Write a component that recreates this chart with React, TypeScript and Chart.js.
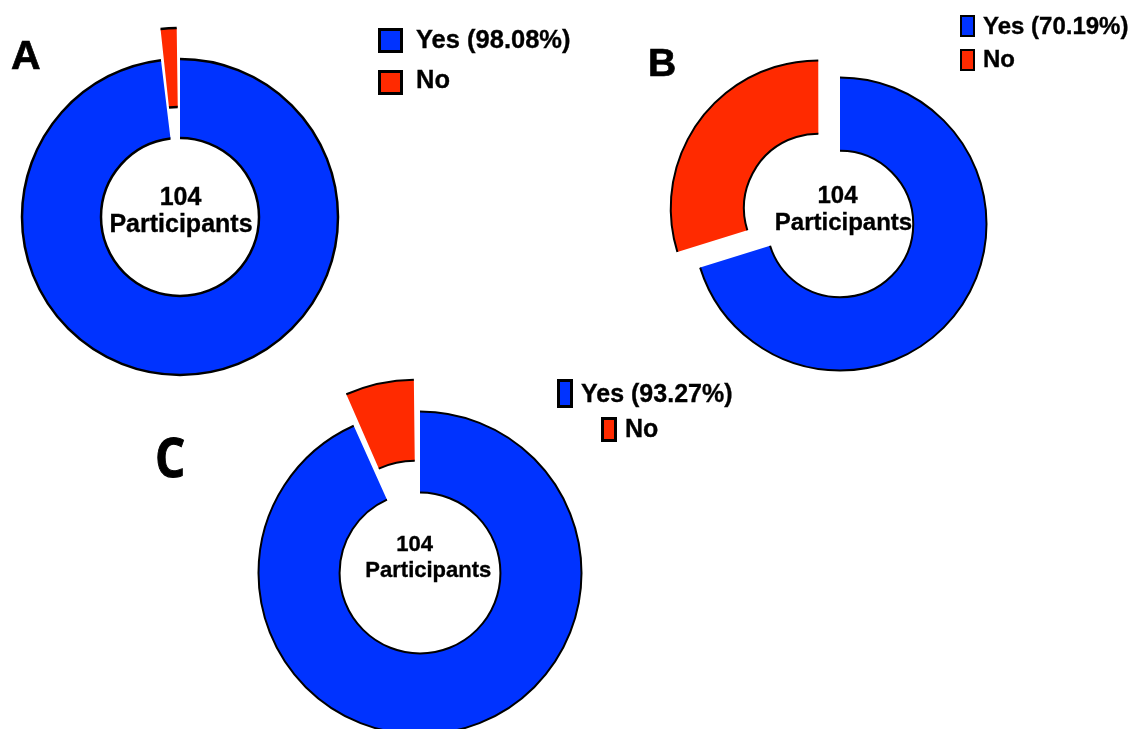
import React, { useEffect, useRef } from "react";
import { Chart, registerables } from "chart.js";

Chart.register(...registerables);

// ---- data ----
const categories = ["Yes", "No"];
const panelLabels = ["A", "B", "C"];
const seriesA = [98.08, 1.92];
const seriesB = [70.19, 29.81];
const seriesC = [93.27, 6.73];
const participants = [104, 104, 104];
const centerWord = "Participants";

// ---- styles ----
const BLUE = "#0033ff";
const RED = "#ff2a00";
const SANS = "'Liberation Sans', Arial, sans-serif";
const OPEN = "'Open Sans', sans-serif";

type Layout = {
  cx: number; cy: number; radius: number; cutout: string; offset: number; border: number;
  letter: { x: number; base: number; size: number; family: string; bf: number; sx: number; stroke: number };
  center: { x1: number; b1: number; x2: number; b2: number; size: number };
  legend: {
    boxes: { x: number; y: number; w: number; h: number; bw: number }[];
    texts: { x: number; base: number }[];
    size: number;
  };
};

const layouts: Layout[] = [
  {
    cx: 180, cy: 217, radius: 158, cutout: "50%", offset: 66, border: 2.5,
    letter: { x: 11, base: 70, size: 41, family: SANS, bf: 0.8465, sx: 1, stroke: 0.7 },
    center: { x1: 180.5, b1: 205, x2: 181, b2: 232, size: 25 },
    legend: {
      boxes: [
        { x: 378, y: 28, w: 25, h: 25, bw: 3.5 },
        { x: 378, y: 70, w: 25, h: 25, bw: 3.5 },
      ],
      texts: [{ x: 416, base: 49 }, { x: 416, base: 89 }],
      size: 25.5,
    },
  },
  {
    cx: 840, cy: 224, radius: 146.5, cutout: "50%", offset: 107, border: 2,
    letter: { x: 648, base: 76, size: 39, family: SANS, bf: 0.8465, sx: 1, stroke: 0.7 },
    center: { x1: 837.5, b1: 203, x2: 843.5, b2: 230, size: 24 },
    legend: {
      boxes: [
        { x: 960, y: 15, w: 15, h: 22, bw: 2.5 },
        { x: 960, y: 49, w: 15, h: 22, bw: 2.5 },
      ],
      texts: [{ x: 983, base: 34 }, { x: 983, base: 67 }],
      size: 24,
    },
  },
  {
    cx: 420, cy: 573, radius: 161.5, cutout: "49.8%", offset: 81, border: 2,
    letter: { x: 155, base: 477, size: 54, family: OPEN, bf: 0.888, sx: 0.88, stroke: 1 },
    center: { x1: 414.7, b1: 552, x2: 428.3, b2: 578, size: 22 },
    legend: {
      boxes: [
        { x: 557, y: 379, w: 16, h: 29, bw: 3 },
        { x: 601, y: 417, w: 16, h: 25, bw: 3 },
      ],
      texts: [{ x: 581, base: 402 }, { x: 625, base: 437 }],
      size: 25,
    },
  },
];

const allSeries = [seriesA, seriesB, seriesC];

// Strokes only the outer and inner arcs of each slice, using the arc element geometry.
const ringBorder = {
  id: "ringBorder",
  afterDatasetsDraw(chart: any, _args: any, opts: any) {
    const ctx = chart.ctx;
    const meta = chart.getDatasetMeta(0);
    ctx.save();
    ctx.strokeStyle = opts.color || "#000";
    ctx.lineWidth = opts.width || 1.5;
    for (const el of meta.data as any[]) {
      const { x, y, startAngle, endAngle, outerRadius, innerRadius, circumference } = el;
      const off = (el.options.offset || 0) / 4;
      const half = (startAngle + endAngle) / 2;
      const fix = 1 - Math.sin(Math.min(Math.PI, circumference || 0));
      const ro = off * fix;
      const R = outerRadius + ro;
      const r = innerRadius > 0 ? innerRadius + ro : 0;
      const alpha = endAngle - startAngle;
      const beta = Math.max(0.001, alpha * R - ro / Math.PI) / R;
      const ao = (alpha - beta) / 2;
      const s = startAngle + ao;
      const e = endAngle - ao;
      const tx = x + Math.cos(half) * off;
      const ty = y + Math.sin(half) * off;
      ctx.beginPath();
      ctx.arc(tx, ty, R, s, e);
      ctx.stroke();
      if (r > 0) {
        ctx.beginPath();
        ctx.arc(tx, ty, r, s, e);
        ctx.stroke();
      }
    }
    ctx.restore();
  },
};

function Donut({ values, cfg }: { values: number[]; cfg: Layout }) {
  const ref = useRef<HTMLCanvasElement>(null);
  useEffect(() => {
    const chart = new Chart(ref.current as HTMLCanvasElement, {
      type: "doughnut",
      data: {
        labels: categories,
        datasets: [
          {
            data: values,
            backgroundColor: [BLUE, RED],
            borderWidth: 0,
            offset: [0, cfg.offset],
          } as any,
        ],
      },
      options: {
        responsive: false,
        animation: false,
        devicePixelRatio: 1,
        radius: cfg.radius,
        cutout: cfg.cutout,
        events: [],
        layout: { padding: 0 },
        plugins: {
          legend: { display: false },
          tooltip: { enabled: false },
          ringBorder: { width: cfg.border, color: "#000" },
        } as any,
      } as any,
      plugins: [ringBorder as any],
    });
    return () => chart.destroy();
  }, []);
  return (
    <canvas
      ref={ref}
      width={400}
      height={400}
      style={{ position: "absolute", left: cfg.cx - 200, top: cfg.cy - 200, width: 400, height: 400 }}
    />
  );
}

function Txt({
  x, base, size, text, center = false, family = SANS, bf = 0.8465, sx = 1, stroke = 0.35,
}: {
  x: number; base: number; size: number; text: string; center?: boolean; family?: string; bf?: number; sx?: number; stroke?: number;
}) {
  const tr = center ? `translateX(-50%) scaleX(${sx})` : `scaleX(${sx})`;
  return (
    <div
      style={{
        position: "absolute",
        left: x,
        top: base - size * bf,
        fontFamily: family,
        fontWeight: 700,
        fontSize: size,
        lineHeight: `${size}px`,
        whiteSpace: "nowrap",
        color: "#000",
        WebkitTextStroke: `${stroke}px #000`,
        transform: tr,
        transformOrigin: "left top",
      }}
    >
      {text}
    </div>
  );
}

export default function App() {
  return (
    <div
      style={{
        position: "fixed",
        left: 0,
        top: 0,
        width: 1131,
        height: 729,
        overflow: "hidden",
        background: "#fff",
      }}
    >
      {layouts.map((cfg, i) => {
        const values = allSeries[i];
        const legendLabels = [`${categories[0]} (${values[0].toFixed(2)}%)`, categories[1]];
        return (
          <React.Fragment key={i}>
            <Donut values={values} cfg={cfg} />
            <Txt
              x={cfg.letter.x}
              base={cfg.letter.base}
              size={cfg.letter.size}
              text={panelLabels[i]}
              family={cfg.letter.family}
              bf={cfg.letter.bf}
              sx={cfg.letter.sx}
              stroke={cfg.letter.stroke}
            />
            <Txt x={cfg.center.x1} base={cfg.center.b1} size={cfg.center.size} text={String(participants[i])} center />
            <Txt x={cfg.center.x2} base={cfg.center.b2} size={cfg.center.size} text={centerWord} center />
            {cfg.legend.boxes.map((b, j) => (
              <div
                key={"b" + j}
                style={{
                  position: "absolute",
                  left: b.x,
                  top: b.y,
                  width: b.w,
                  height: b.h,
                  boxSizing: "border-box",
                  border: `${b.bw}px solid #000`,
                  background: j === 0 ? BLUE : RED,
                }}
              />
            ))}
            {cfg.legend.texts.map((t, j) => (
              <Txt key={"t" + j} x={t.x} base={t.base} size={cfg.legend.size} text={legendLabels[j]} />
            ))}
          </React.Fragment>
        );
      })}
    </div>
  );
}
